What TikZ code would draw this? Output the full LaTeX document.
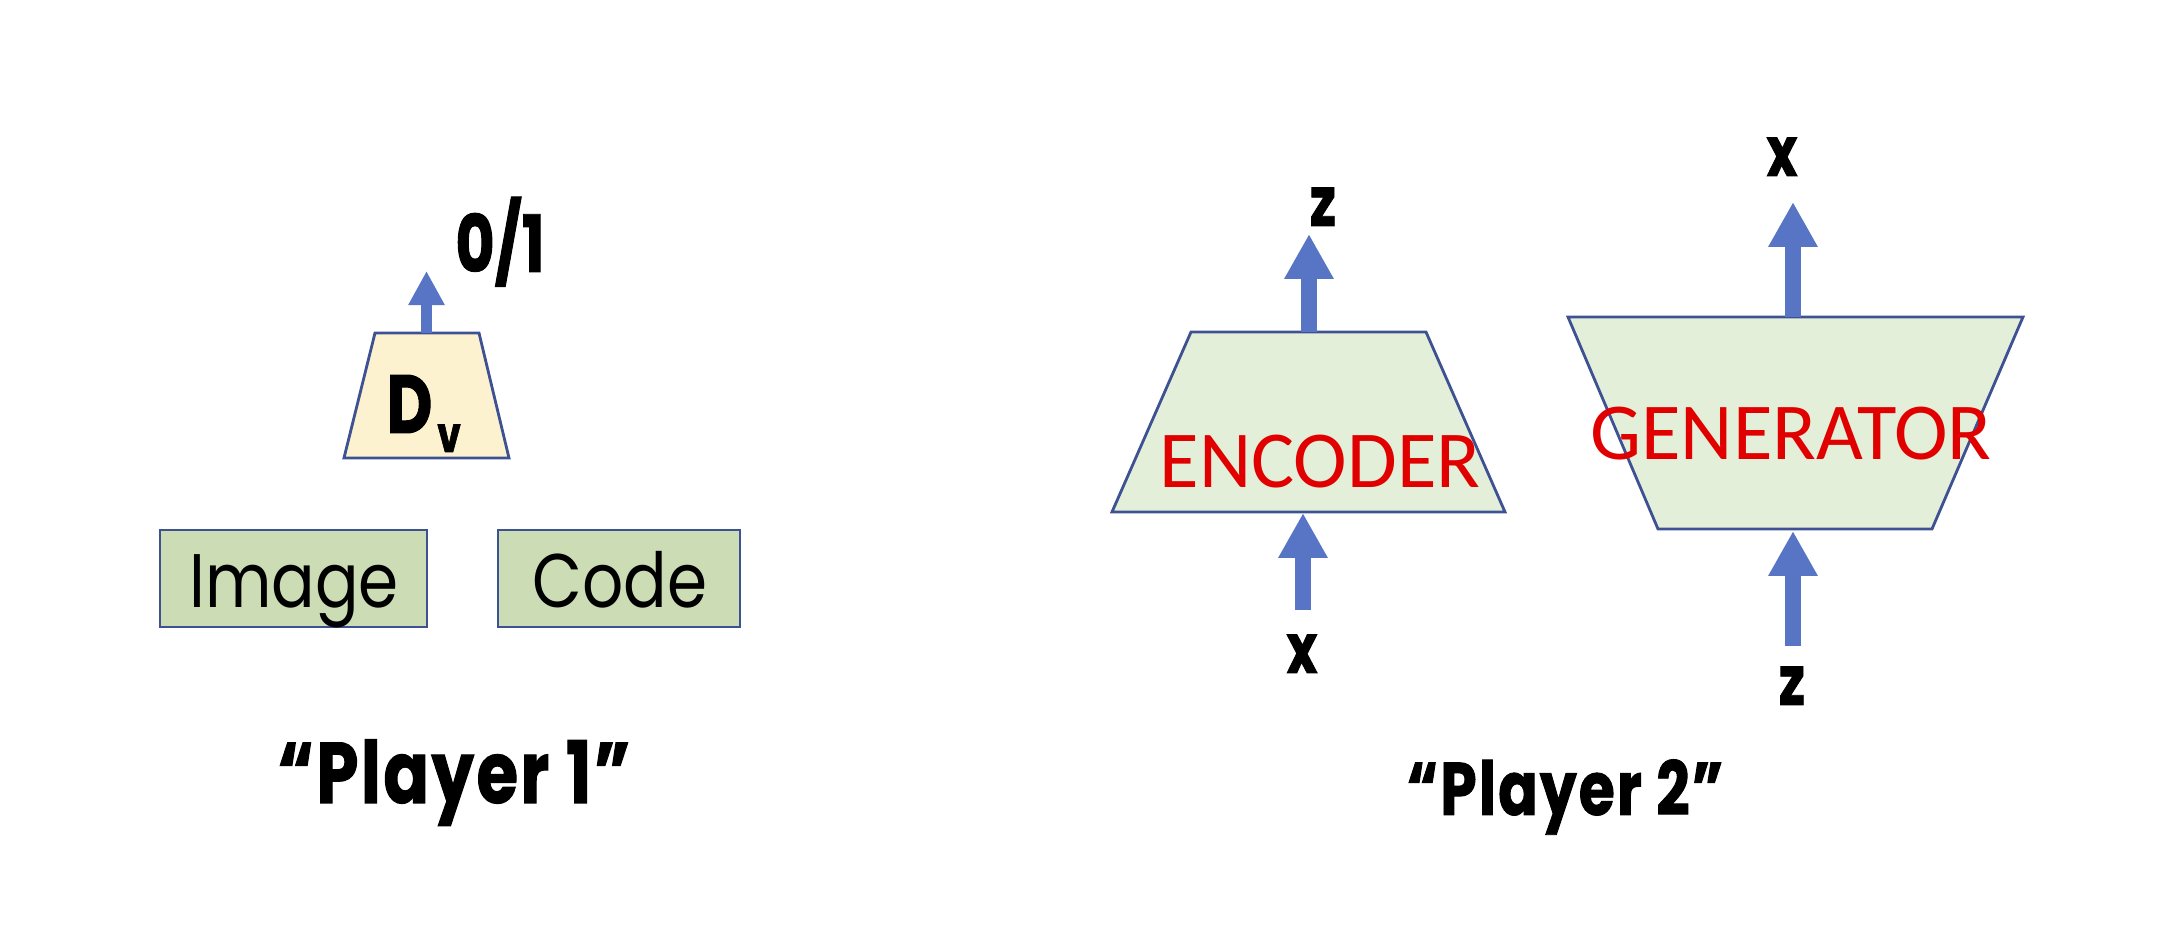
\documentclass[tikz,border=0pt]{standalone}
\usepackage{fontspec}
\setmainfont{Poppins}
\newfontfamily\condfont{Poppins}[FakeStretch=0.76,FakeBold=1.2]
\newfontfamily\playerfont{Poppins}[FakeStretch=0.78,FakeBold=1.2,LetterSpace=3]
\newfontfamily\boxfont{Poppins}[FakeStretch=0.85]
\newfontfamily\netfont{Carlito}
\usetikzlibrary{arrows.meta}
\definecolor{dvfill}{HTML}{FCF2CF}
\definecolor{boxfill}{HTML}{CCDDB6}
\definecolor{netfill}{HTML}{E3EFD9}
\definecolor{edgeblue}{HTML}{3E5193}
\definecolor{flowblue}{HTML}{5874C4}
\definecolor{netred}{HTML}{E00000}

\begin{document}
\begin{tikzpicture}[x=0.1mm,y=-0.1mm,
  netpart/.style={fill=#1,draw=edgeblue,line width=0.8pt},
  smallflow/.style={flowblue,line width=3.1pt,-{Triangle[width=9.7pt,length=9.7pt]}},
  bigflow/.style={flowblue,line width=4.3pt,-{Triangle[width=13.2pt,length=12.8pt]}},
  varlabel/.style={anchor=base,inner sep=0pt,font=\condfont\bfseries\fontsize{19.6}{20}\selectfont},
  playerlabel/.style={anchor=base,inner sep=0pt,font=\playerfont\bfseries\fontsize{#1}{#1}\selectfont},
  netlabel/.style={anchor=base,inner sep=0pt,text=netred,font=\netfont\fontsize{23}{23}\selectfont},
  boxlabel/.style={anchor=base,inner sep=0pt,font=\boxfont\fontsize{21.6}{22}\selectfont}]
\useasboundingbox (0,0) rectangle (2159,947);

% D_v
\draw[netpart=dvfill] (375,333) -- (479,333) -- (509,458) -- (344,458) -- cycle;
\node[anchor=base west,inner sep=0pt,font=\condfont\bfseries\fontsize{23.5}{24}\selectfont] (dv) at (386,433)
  {D\hspace{0.5mm}\raisebox{-1.9mm}{\fontsize{14}{14}\selectfont v}};
\coordinate (dvtop) at (426.5,333);
\coordinate (dvtip) at (426.5,271);
\node[anchor=base,inner sep=0pt,font=\condfont\bfseries\fontsize{22.5}{23}\selectfont] (score) at (500,272) {0/1};
\draw[smallflow] (dvtop) -- (dvtip);

% Image, Code
\draw[netpart=boxfill] (160,530) rectangle (427,627);
\node[boxlabel] (image) at (294,608) {Image};
\draw[netpart=boxfill] (498,530) rectangle (740,627);
\node[boxlabel] (code) at (620,608) {Code};

\node[playerlabel=24.5] (player1) at (454,803) {“Player 1”};

% Encoder
\draw[netpart=netfill] (1191,332) -- (1426,332) -- (1505,512) -- (1112,512) -- cycle;
\node[netlabel] (encoder) at (1320,488) {ENCODER};
\coordinate (enctop) at (1309,332);
\coordinate (enctip) at (1309,234);
\coordinate (encin) at (1303,610);
\coordinate (encbot) at (1303,513);
\node[varlabel] (zenc) at (1323,226) {z};
\node[varlabel] (xenc) at (1302,673) {x};
\draw[bigflow] (enctop) -- (enctip);
\draw[bigflow] (encin) -- (encbot);

% Generator
\draw[netpart=netfill] (1568,317) -- (2023,317) -- (1932,529) -- (1658,529) -- cycle;
\node[netlabel] (generator) at (1791,460) {GENERATOR};
\coordinate (gentop) at (1793,317);
\coordinate (gentip) at (1793,202);
\coordinate (genin) at (1793,646);
\coordinate (genbot) at (1793,531);
\node[varlabel] (xgen) at (1782,176) {x};
\node[varlabel] (zgen) at (1792,705) {z};
\draw[bigflow] (gentop) -- (gentip);
\draw[bigflow] (genin) -- (genbot);

\node[playerlabel=21.2] (player2) at (1565,815) {“Player 2”};

\end{tikzpicture}
\end{document}
